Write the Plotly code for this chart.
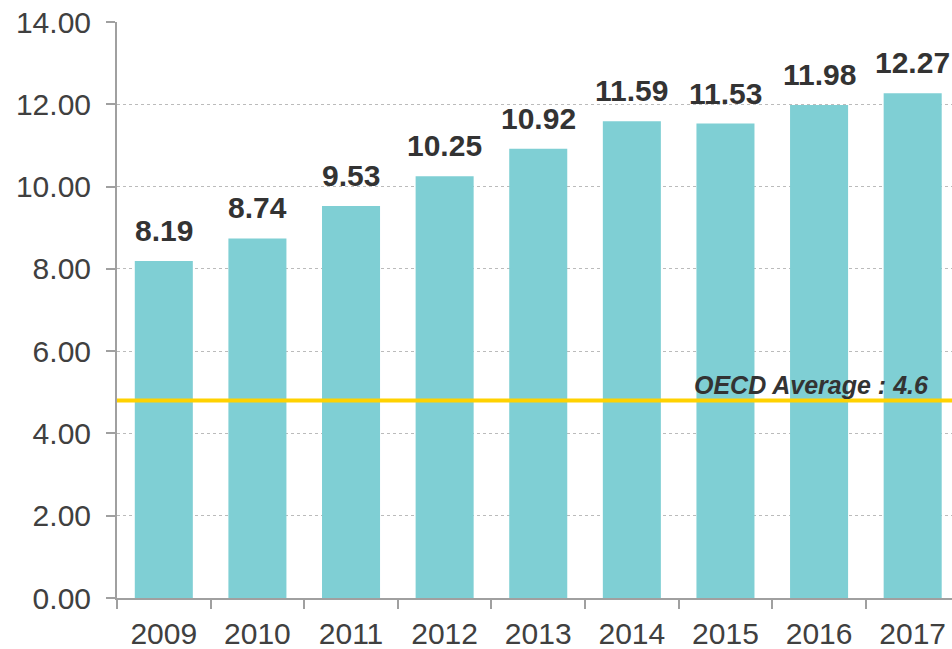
import plotly.graph_objects as go

years = ["2009", "2010", "2011", "2012", "2013", "2014", "2015", "2016", "2017"]
values = [8.19, 8.74, 9.53, 10.25, 10.92, 11.59, 11.53, 11.98, 12.27]
oecd_line = 4.8
oecd_label = "OECD Average : 4.6"
y_ticks = [0, 2, 4, 6, 8, 10, 12, 14]

FONT = "Liberation Sans, Arial, sans-serif"

fig = go.Figure()
fig.add_trace(go.Bar(
    x=years, y=values, width=0.62,
    marker=dict(color="#7FCFD4", line=dict(width=0)),
    hoverinfo="skip",
))

for i, v in enumerate(values):
    fig.add_annotation(
        x=i, y=v, text=f"{v:.2f}", showarrow=False,
        yanchor="bottom", yshift=12,
        font=dict(family=FONT, size=30, color="#333333", weight="bold"),
    )

fig.add_shape(type="line", xref="paper", x0=0, x1=1, yref="y", y0=oecd_line, y1=oecd_line,
              line=dict(color="#FFD200", width=4), layer="above")
fig.add_annotation(
    xref="paper", x=0.975, y=oecd_line, text=oecd_label, showarrow=False,
    xanchor="right", yanchor="bottom", yshift=0,
    font=dict(family=FONT, size=25, color="#333333", weight="bold", style="italic"),
)

fig.update_layout(
    width=952, height=649,
    margin=dict(l=117, r=0, t=22, b=51),
    plot_bgcolor="white", paper_bgcolor="white",
    showlegend=False,
)
fig.update_xaxes(
    type="category", range=[-0.5, 8.42],
    showline=True, linecolor="#A0A0A0", linewidth=2,
    ticks="outside", tickson="boundaries", ticklen=9, tickcolor="#A0A0A0", tickwidth=2,
    tickfont=dict(family=FONT, size=30, color="#404040"),
    ticklabelstandoff=8,
    showgrid=False,
)
fig.update_yaxes(
    range=[0, 14], tickvals=y_ticks, ticktext=[f"{t:.2f}" for t in y_ticks],
    showline=True, linecolor="#A0A0A0", linewidth=2,
    ticks="outside", ticklen=9, tickcolor="#A0A0A0", tickwidth=2,
    tickfont=dict(family=FONT, size=30, color="#404040"),
    ticklabelstandoff=9,
    showgrid=True, gridcolor="#BBBBBB", griddash="dot", gridwidth=1,
    zeroline=False,
)

fig.write_html("out.html", config={"displayModeBar": False},
               post_script="document.body.style.margin='0';document.body.style.overflow='hidden';")
